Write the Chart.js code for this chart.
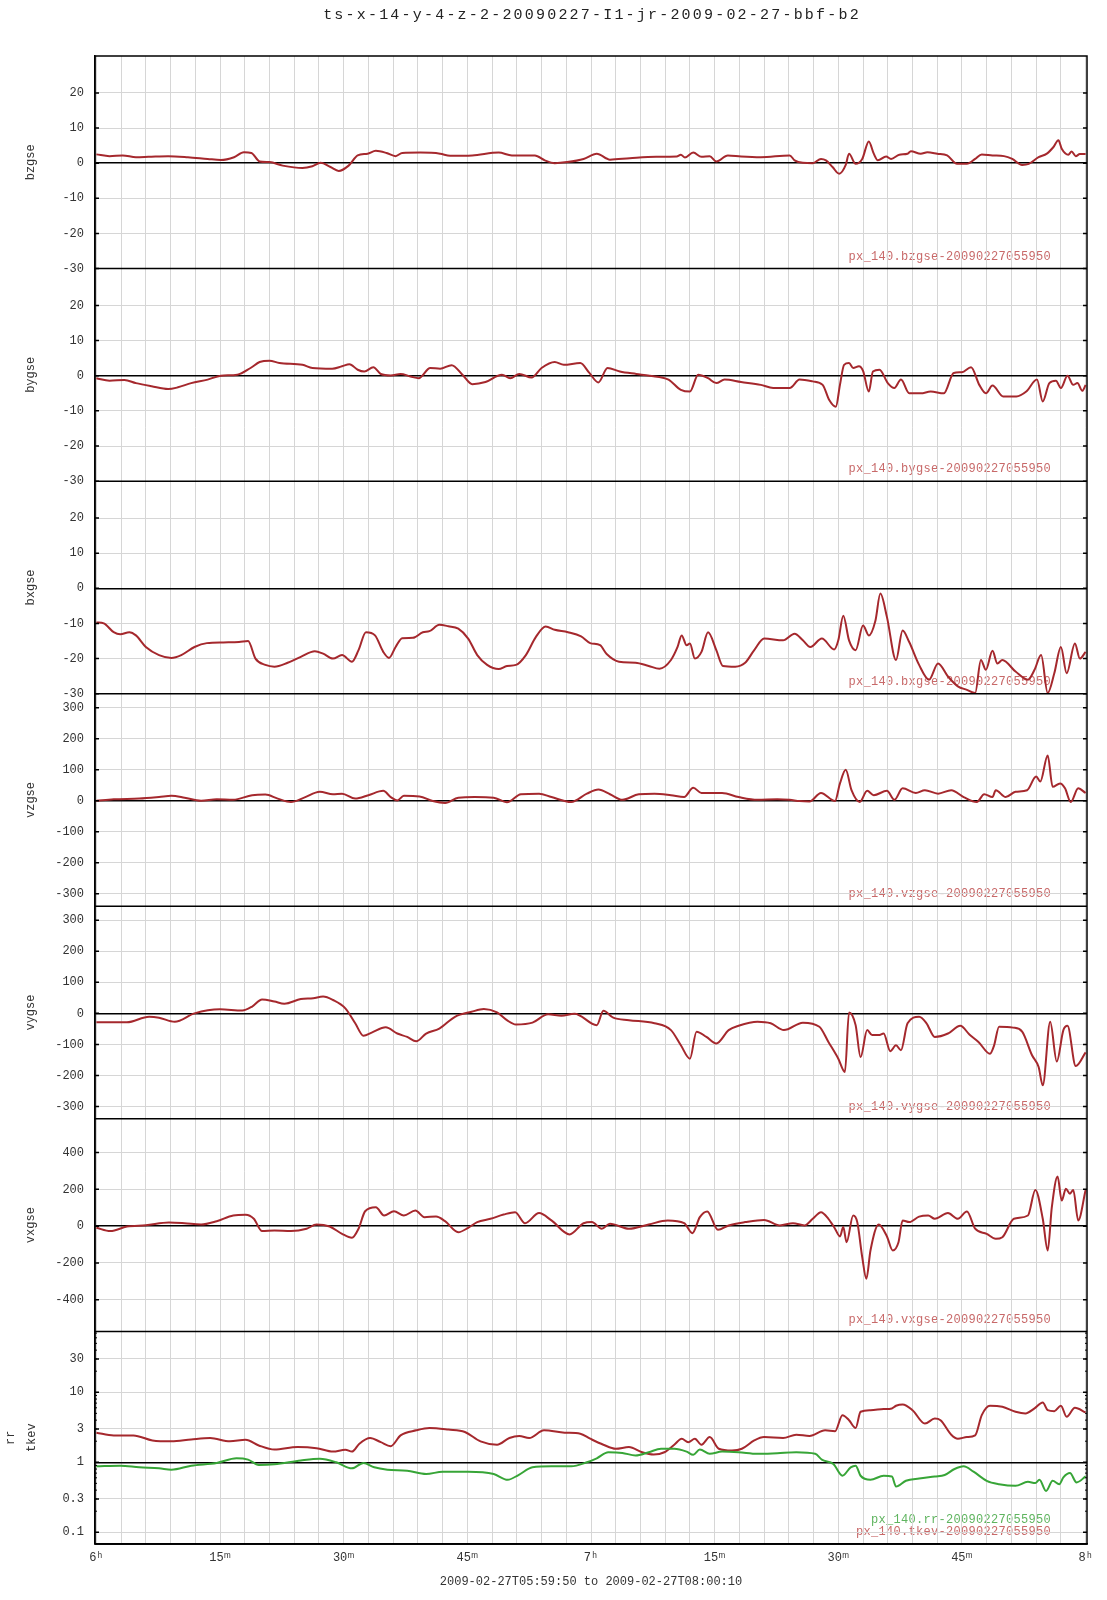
<!DOCTYPE html>
<html>
<head>
<meta charset="utf-8">
<title>ts-x-14-y-4-z-2-20090227-I1-jr-2009-02-27-bbf-b2</title>
<script src="https://cdn.jsdelivr.net/npm/chart.js@4/dist/chart.umd.min.js"></script>
<style>
  html, body { margin: 0; padding: 0; background: #fff; }
  #wrap { width: 1107px; height: 1600px; }
</style>
</head>
<body>
<div id="wrap"><canvas id="tsChart" width="1107" height="1600"></canvas></div>
<script>
// Tytul i zakres czasu
const chartTitle = 'ts-x-14-y-4-z-2-20090227-I1-jr-2009-02-27-bbf-b2';
const timeRange = '2009-02-27T05:59:50 to 2009-02-27T08:00:10';

// os X w minutach od 06:00 (05:59:50 .. 08:00:10)
const xMin = -10 / 60;
const xMax = 120 + 10 / 60;
const xTickMinutes = [0, 15, 30, 45, 60, 75, 90, 105, 120];
const xTickLabels = ['6ʰ', '15ᵐ', '30ᵐ', '45ᵐ', '7ʰ', '15ᵐ', '30ᵐ', '45ᵐ', '8ʰ'];

// etykiety osi Y
const bTicks = [-30, -20, -10, 0, 10, 20];
const vTicks = [-300, -200, -100, 0, 100, 200, 300];
const vxTicks = [-400, -200, 0, 200, 400];
const logTicks = [0.1, 0.3, 1, 3, 10, 30];

// serie: [minuta, wartosc]
const bzgse = [[0,2.5],[1.6,2],[3.2,2.2],[4.8,1.7],[6.3,1.8],[8.7,2],[11.1,1.7],[13.5,1.2],[15.1,0.9],[16.7,1.7],[17.9,3.1],[18.8,2.9],[19.8,0.5],[21,0.3],[22.6,-0.7],[25,-1.4],[26.2,-0.9],[27.2,0.1],[28.4,-1.1],[29.4,-2.2],[30.6,-0.7],[31.7,2.2],[32.9,2.7],[33.9,3.5],[35.2,2.9],[36.3,2],[37.1,2.9],[39.3,3],[41.7,2.7],[42.9,2.1],[45.6,2.2],[48.8,3],[50.4,2.2],[53.2,2.2],[54.4,0.8],[55.6,0],[57.1,0.3],[59.1,1.2],[60.7,2.7],[62.3,1],[64.7,1.4],[67.9,1.8],[70.4,1.9],[70.9,2.4],[71.4,1.6],[72.4,3],[73.4,1.8],[74.4,2],[75.2,0.5],[76.6,2.2],[78.2,1.9],[80.6,1.7],[84.1,2.2],[84.7,0.8],[85.7,0.1],[86.9,0],[87.9,1.2],[88.5,0.8],[89.3,-1.1],[90.1,-3],[90.9,-0.5],[91.3,2.7],[92.1,-0.2],[92.9,1.2],[93.7,6.2],[94.3,2.7],[94.8,0.8],[95.8,1.9],[96.4,1.2],[97.4,2.4],[98.4,2.7],[98.8,3.4],[100,2.7],[100.8,3.1],[102,2.7],[103.2,2.2],[104.4,-0.2],[105.6,-0.2],[106.6,1.2],[107.4,2.5],[108.7,2.2],[110.1,2],[111.1,1.2],[112.3,-0.5],[113.1,-0.2],[114.3,1.7],[115.3,2.7],[116.1,4.6],[116.7,6.5],[117.1,4.1],[117.9,2.4],[118.3,3.3],[118.8,2],[119.3,2.6],[120,2.6]];

const bygse = [[0,-0.7],[1.6,-1.4],[3.4,-1.2],[4.8,-2.1],[6.7,-3],[8.7,-3.8],[9.9,-3.3],[11.5,-2.1],[13.5,-1.1],[15.1,0],[17.1,0.3],[18.7,2.2],[19.8,3.9],[21,4.3],[22.2,3.6],[25,3.1],[26.2,2.2],[28.6,2],[29.8,2.7],[30.7,3.3],[31.7,1.7],[32.5,1.2],[33.6,2.4],[34.5,0.5],[35.7,0.1],[36.9,0.5],[38.1,-0.2],[39.1,-0.7],[40.5,2.2],[41.7,2],[43.1,3],[44.4,0.3],[45.6,-2.4],[47.2,-1.8],[49.2,0.3],[50.2,-0.7],[51.3,0.5],[52.8,-0.5],[54,2.2],[55.6,3.9],[56.7,3.1],[58.7,3.6],[59.8,0.8],[60.9,-1.9],[62,2.2],[63.5,1.2],[65.5,0.5],[67.1,0],[69.4,-1.1],[70.9,-4],[72,-4.5],[73,0.3],[74.2,-0.7],[75.2,-2.1],[76.2,-1.1],[78.2,-1.8],[80.6,-2.6],[82.1,-3.5],[84.1,-3.5],[85.3,-1.1],[86.9,-1.6],[88.1,-2.6],[88.9,-6.9],[89.7,-8.8],[90.2,-2.6],[90.7,3.1],[91.3,3.6],[91.8,2.2],[92.5,2.7],[93,1.4],[93.7,-4.5],[94.2,1.2],[95,1.7],[96,-2.1],[96.8,-3.5],[97.6,-1.1],[98.6,-5],[100,-5],[101.2,-4.5],[102.8,-5],[104,0.8],[105,1],[106.1,2.4],[107.1,-2.6],[107.9,-5],[108.7,-2.8],[110,-5.9],[111.6,-5.9],[112.8,-4.5],[114.1,-1.1],[114.8,-7.3],[115.6,-2.1],[116.4,-1.4],[117,-3.5],[117.8,0],[118.5,-2.6],[119,-2.1],[119.6,-4.3],[120,-2.6]];

const bxgse = [[0,-9.7],[0.9,-10],[2.1,-12.5],[2.9,-13.1],[4,-12.5],[4.8,-13.4],[6,-16.7],[7.6,-19],[9.1,-19.8],[10.3,-19],[11.9,-16.7],[13.4,-15.6],[15.4,-15.4],[17.3,-15.3],[18.4,-15],[19.3,-20],[20.5,-21.8],[21.6,-22.3],[23.2,-21.2],[24.8,-19.5],[26.5,-17.9],[27.5,-18.6],[28.7,-20],[29.8,-19],[31,-20.9],[31.8,-17.6],[32.7,-12.5],[33.8,-13.4],[34.8,-18.1],[35.5,-19.8],[36.3,-16.7],[37.1,-14.2],[38.4,-14.1],[39.6,-12.5],[40.4,-12.2],[41.6,-10.4],[42.7,-10.8],[43.9,-11.5],[45.1,-14.3],[46.2,-19],[47.4,-21.8],[48.8,-23],[49.8,-22.1],[50.9,-21.8],[52.1,-19],[53.3,-13.9],[54.5,-10.9],[55.6,-11.8],[57.2,-12.5],[58.8,-13.7],[59.9,-15.6],[61.1,-16.2],[61.9,-18.7],[63.4,-20.9],[65.4,-21.2],[67,-22.1],[68.3,-22.9],[69.7,-20.4],[70.5,-16.7],[71,-13.4],[71.6,-16.2],[72,-15.7],[72.6,-20],[73.4,-18.1],[74.2,-12.5],[75.2,-17.6],[76,-22.1],[77.5,-22.3],[78.7,-21.2],[79.8,-17.6],[81,-14.3],[83.3,-14.8],[84.7,-12.9],[85.7,-14.8],[86.6,-16.7],[88,-14.3],[89.5,-17.4],[90,-14.8],[90.6,-7.8],[91.3,-14.8],[92.1,-17.6],[93,-10.6],[93.7,-13.4],[94.5,-9.2],[95.1,-1.5],[95.9,-8.2],[97,-20.4],[97.8,-12],[98.6,-15.3],[99.8,-21.8],[101,-26],[102.1,-21.4],[103.3,-25.1],[104.5,-27.9],[105.6,-28.9],[106.6,-29.8],[107.3,-20.4],[107.9,-23.2],[108.7,-17.8],[109.3,-21.4],[109.9,-20.4],[111.5,-23.7],[113,-26],[113.8,-23.2],[114.6,-19],[115.4,-29.8],[116.2,-24.2],[117,-16.7],[117.7,-24.2],[118.7,-15.7],[119.3,-20],[120,-18.1]];

const vzgse = [[0,0],[2.1,5],[5.2,7],[7.6,12],[9.1,16],[10.7,10],[12.7,0],[14.6,5],[16.6,3],[18.9,18],[20.5,20],[22,7],[23.6,-4],[25.2,10],[27.1,29],[28.7,21],[29.8,23],[31.4,7],[33,18],[34.8,32],[35.7,12],[36.5,1],[37.3,16],[39.2,14],[40.8,-1],[42.3,-7],[43.9,10],[45.9,12],[48.2,10],[49.8,-5],[51.5,21],[53.7,23],[55.2,12],[57.6,-4],[59.5,23],[60.9,36],[62.3,21],[63.8,3],[65.8,21],[67.7,23],[69.7,18],[71.3,12],[72.4,42],[73.4,25],[75.9,25],[77.9,12],[80.2,3],[82.6,5],[84.1,3],[85.3,-1],[86.5,-2],[87.9,25],[89.6,-1],[90.2,56],[90.9,100],[91.6,34],[92.6,-4],[93.5,32],[94.3,18],[95.9,32],[96.8,3],[97.8,40],[99.4,25],[100.5,34],[102.1,23],[103.7,34],[105.2,12],[106.8,-4],[107.7,21],[108.7,12],[109.1,34],[110.3,12],[111.5,29],[112.9,34],[114,78],[114.5,62],[115.4,146],[116,45],[116.9,56],[117.5,40],[118.2,-4],[119.1,40],[120,25]];

const vygse = [[0,-29],[3.7,-29],[6.4,-11],[7.6,-14],[9.5,-27],[11.9,0],[15,13],[17.7,9],[18.9,22],[20.1,45],[21.6,38],[22.8,31],[24.8,46],[26.3,49],[27.5,54],[28.7,43],[30.2,16],[31.4,-32],[32.4,-72],[33.4,-62],[35.1,-45],[36.5,-65],[37.7,-76],[38.8,-90],[40,-65],[41.6,-49],[43.5,-11],[45.5,5],[47,14],[48.6,3],[49.8,-22],[50.9,-36],[52.9,-30],[54.8,-3],[56.4,-8],[58,-1],[60.7,-38],[61.5,8],[62.7,-14],[64.6,-22],[67.7,-32],[69.7,-54],[70.9,-103],[72,-146],[72.8,-59],[74,-76],[75.2,-97],[76.7,-54],[77.9,-40],[80.2,-27],[81.8,-32],[83.4,-54],[85.7,-30],[87.7,-43],[88.8,-92],[90,-146],[90.8,-189],[91.3,3],[92.1,-38],[92.7,-141],[93.5,-54],[94.1,-70],[94.9,-70],[95.5,-65],[96.3,-122],[97,-103],[97.6,-119],[98.4,-32],[99.8,-11],[100.7,-32],[101.7,-76],[103.3,-65],[104.8,-40],[105.9,-68],[107,-92],[108.4,-130],[108.9,-103],[109.5,-43],[111.2,-46],[112.3,-59],[113.5,-135],[114.3,-173],[114.8,-232],[115.7,-27],[116.5,-155],[117.3,-54],[117.8,-40],[118.8,-170],[120,-126]];

const vxgse = [[0,-9],[1.7,-27],[3.7,-2],[6,5],[8.8,20],[10.7,16],[12.7,9],[14.6,27],[16.6,58],[18.1,62],[19.1,40],[20.1,-27],[21.6,-24],[23.6,-27],[25.5,-14],[26.7,9],[28.3,-2],[29.8,-42],[31,-63],[31.8,-14],[32.6,81],[33.9,103],[34.9,58],[36.1,81],[37.3,58],[38.7,85],[39.8,49],[41.2,52],[42.3,27],[43.9,-33],[45.1,-9],[46.2,22],[47.8,40],[49.4,63],[50.8,76],[52,16],[53.7,71],[55.2,31],[57.4,-45],[59.1,16],[60.1,22],[61.3,-14],[62.3,13],[64.6,-14],[67,9],[69.3,31],[71.3,16],[72.3,-38],[73.2,49],[74.1,80],[75.4,-20],[76.7,4],[78.7,22],[81,34],[82.9,4],[84.5,16],[85.9,4],[86.9,40],[87.9,76],[88.8,40],[89.6,-14],[90.2,-56],[90.6,-5],[91,-87],[91.8,58],[92.3,22],[92.9,-168],[93.4,-286],[93.9,-132],[94.9,9],[95.9,-56],[96.6,-132],[97.3,-87],[97.8,31],[98.6,22],[99.8,52],[100.9,58],[101.7,40],[103.3,71],[104.5,40],[105.6,80],[106.6,-14],[108,-42],[109.1,-69],[109.9,-60],[111.3,40],[113,58],[113.9,197],[114.8,40],[115.4,-132],[115.9,103],[116.6,270],[117.1,139],[117.6,203],[118.1,176],[118.5,197],[119.1,31],[120,197]];

const rr = [[0,0.876],[2.9,0.895],[5.2,0.847],[7.6,0.819],[9.1,0.784],[11.5,0.895],[14.6,0.978],[17,1.14],[18.4,1.09],[19.7,0.915],[21.6,0.936],[24.8,1.06],[27.1,1.12],[29.1,1],[31,0.819],[32.4,0.978],[33.7,0.847],[35.3,0.784],[37.7,0.758],[40,0.679],[42,0.733],[45.1,0.733],[48.2,0.679],[49.9,0.563],[51.2,0.657],[52.9,0.847],[55.2,0.876],[57.6,0.876],[59.5,1],[60.7,1.14],[62.1,1.39],[63.8,1.36],[65.4,1.25],[67,1.39],[68.5,1.56],[70.1,1.56],[71.6,1.42],[72.4,1.28],[73.2,1.52],[74.4,1.32],[75.9,1.42],[77.9,1.39],[80.2,1.32],[82.6,1.35],[84.9,1.39],[87.2,1.32],[88,1.09],[89.4,0.946],[90.5,0.642],[91.5,0.847],[92.1,0.895],[92.7,0.642],[93.9,0.563],[95.5,0.642],[96.5,0.628],[97,0.45],[98.2,0.544],[99.8,0.588],[101.7,0.628],[102.9,0.657],[104.1,0.801],[105.2,0.876],[106.4,0.733],[108,0.544],[109.5,0.487],[111.5,0.461],[113,0.527],[113.9,0.504],[114.4,0.563],[115.2,0.39],[116,0.544],[116.8,0.487],[117.3,0.608],[118.1,0.7],[118.9,0.515],[120,0.628]];

const tkev = [[0,2.65],[2.1,2.42],[4.5,2.42],[6.8,2.05],[9.1,1.99],[11.5,2.12],[13.8,2.22],[16.2,1.99],[18.1,2.1],[19.7,1.74],[21.6,1.52],[24.4,1.65],[26.7,1.59],[28.7,1.42],[30.2,1.51],[31,1.42],[31.9,1.84],[33.2,2.22],[34.5,1.94],[35.7,1.7],[36.9,2.42],[38.8,2.86],[40.4,3.09],[42.7,2.93],[44.7,2.71],[46.6,1.99],[48.6,1.78],[50.1,2.22],[51.3,2.37],[52.5,2.22],[54.3,2.86],[56.8,2.65],[58.7,2.56],[59.9,2.17],[61.5,1.78],[63,1.56],[64.6,1.65],[66.2,1.39],[67.6,1.29],[68.9,1.39],[70.1,1.78],[71,2.17],[71.8,1.94],[72.6,2.17],[73.4,1.78],[74.4,2.29],[75.5,1.56],[77.1,1.47],[78.3,1.56],[79.8,2.05],[81,2.29],[83.3,2.22],[84.9,2.48],[86.5,2.37],[88.4,2.86],[89.6,2.77],[90.5,4.71],[91.3,3.99],[92.1,3.09],[92.7,5.27],[93.9,5.55],[95.5,5.75],[96.5,5.88],[97,6.42],[97.8,6.71],[99,5.55],[100.5,3.57],[101.7,4.21],[102.4,3.99],[103.7,2.48],[104.5,2.17],[105.6,2.29],[106.6,2.42],[107.4,4.71],[108.4,6.42],[109.9,6.2],[111.5,5.27],[112.7,4.98],[113.8,5.88],[114.8,7.17],[115.4,5.55],[116.2,5.37],[117,6.42],[117.7,4.46],[118.7,6],[120,5.15]];

const lineRed = 'rgb(165,40,45)';
const lineGreen = 'rgb(55,165,55)';
const srcRed = 'rgb(200,105,105)';
const srcGreen = 'rgb(95,180,95)';

const monoFont = "'Liberation Mono', 'Courier New', monospace";
const textColor = '#333';

// panele od gory do dolu
const panels = [
    { id: 'yBz', title: 'bzgse', min: -30, max: 30.5, ticks: bTicks, base: 0, titlePad: 24,
      series: [{ points: bzgse, color: lineRed, source: 'px_140.bzgse-20090227055950', srcColor: srcRed }] },
    { id: 'yBy', title: 'bygse', min: -30, max: 30.5, ticks: bTicks, base: 0, titlePad: 24,
      series: [{ points: bygse, color: lineRed, source: 'px_140.bygse-20090227055950', srcColor: srcRed }] },
    { id: 'yBx', title: 'bxgse', min: -30, max: 30.5, ticks: bTicks, base: 0, titlePad: 24,
      series: [{ points: bxgse, color: lineRed, source: 'px_140.bxgse-20090227055950', srcColor: srcRed }] },
    { id: 'yVz', title: 'vzgse', min: -340, max: 345, ticks: vTicks, base: 0, titlePad: 24,
      series: [{ points: vzgse, color: lineRed, source: 'px_140.vzgse-20090227055950', srcColor: srcRed }] },
    { id: 'yVy', title: 'vygse', min: -340, max: 345, ticks: vTicks, base: 0, titlePad: 24,
      series: [{ points: vygse, color: lineRed, source: 'px_140.vygse-20090227055950', srcColor: srcRed }] },
    { id: 'yVx', title: 'vxgse', min: -572, max: 583, ticks: vxTicks, base: 0, titlePad: 24,
      series: [{ points: vxgse, color: lineRed, source: 'px_140.vxgse-20090227055950', srcColor: srcRed }] },
    { id: 'yT', title: ['rr', 'tkev'], min: 0.068, max: 74, ticks: logTicks, base: 1, titlePad: 1, log: true,
      series: [{ points: rr, color: lineGreen, source: 'px_140.rr-20090227055950', srcColor: srcGreen },
               { points: tkev, color: lineRed, source: 'px_140.tkev-20090227055950', srcColor: srcRed }] }
];

// dekoracje: tytul, podpisy zrodel, ramki paneli, kreski podzialki
const panelDecor = {
    id: 'panelDecor',
    beforeDraw(chart) {
        const { ctx, chartArea } = chart;
        ctx.save();
        ctx.fillStyle = '#fff';
        ctx.fillRect(0, 0, chart.width, chart.height);
        ctx.font = '15px ' + monoFont;
        ctx.letterSpacing = '2.2px';
        ctx.fillStyle = '#222';
        ctx.textAlign = 'center';
        ctx.textBaseline = 'middle';
        ctx.fillText(chartTitle, (chartArea.left + chartArea.right) / 2 + 1, 15);
        ctx.letterSpacing = '0.3px';
        ctx.font = '12px ' + monoFont;
        ctx.textAlign = 'right';
        panels.forEach(p => {
            const sc = chart.scales[p.id];
            p.series.forEach((s, k) => {
                ctx.fillStyle = s.srcColor;
                ctx.fillText(s.source, chartArea.right - 36, sc.bottom - 12 - 12 * (p.series.length - 1 - k));
            });
        });
        ctx.restore();
    },
    afterDraw(chart) {
        const { ctx, chartArea } = chart;
        ctx.save();
        ctx.strokeStyle = '#000';
        ctx.lineWidth = 1.5;
        ctx.strokeRect(chartArea.left, chartArea.top, chartArea.right - chartArea.left, chartArea.bottom - chartArea.top);
        panels.forEach(p => {
            const sc = chart.scales[p.id];
            ctx.beginPath();
            ctx.moveTo(chartArea.left, sc.bottom);
            ctx.lineTo(chartArea.right, sc.bottom);
            ctx.stroke();
        });
        // krotkie kreski podzialki po wewnetrznej stronie ramki
        ctx.lineWidth = 1.5;
        panels.forEach(p => {
            const sc = chart.scales[p.id];
            sc.ticks.forEach(t => {
                const y = sc.getPixelForValue(t.value);
                ctx.beginPath();
                ctx.moveTo(chartArea.left, y);
                ctx.lineTo(chartArea.left + 4, y);
                ctx.moveTo(chartArea.right, y);
                ctx.lineTo(chartArea.right - 4, y);
                ctx.stroke();
            });
            if (p.log) {
                ctx.lineWidth = 1;
                [0.1, 1, 10].forEach(dec => {
                    for (let m = 2; m <= 9; m++) {
                        const v = dec * m;
                        if (v < p.min || v > p.max) continue;
                        const y = sc.getPixelForValue(v);
                        ctx.beginPath();
                        ctx.moveTo(chartArea.left, y);
                        ctx.lineTo(chartArea.left + 2, y);
                        ctx.moveTo(chartArea.right, y);
                        ctx.lineTo(chartArea.right - 2, y);
                        ctx.stroke();
                    }
                });
                ctx.lineWidth = 1.5;
            }
        });
        ctx.restore();
    }
};

const scales = {
    x: {
        type: 'linear',
        position: 'bottom',
        min: xMin,
        max: xMax,
        afterBuildTicks: s => {
            const t = [];
            for (let m = 0; m <= 120; m += 3) t.push({ value: m });
            s.ticks = t;
        },
        afterFit: s => { s.height = 56; },
        grid: { color: '#d6d6d6', drawTicks: false },
        border: { color: '#000', width: 1.5 },
        ticks: {
            autoSkip: false,
            maxRotation: 0,
            padding: 7,
            color: textColor,
            font: { family: monoFont, size: 12 },
            callback: v => {
                const i = xTickMinutes.indexOf(v);
                return i >= 0 ? xTickLabels[i] : '';
            }
        },
        title: { display: true, text: timeRange, color: textColor, font: { family: monoFont, size: 12 }, padding: { top: 0, bottom: 11 } }
    }
};

panels.forEach((p, idx) => {
    scales[p.id] = {
        type: p.log ? 'logarithmic' : 'linear',
        position: 'left',
        stack: 'panels',
        stackWeight: 1,
        weight: panels.length - idx,
        min: p.min,
        max: p.max,
        afterBuildTicks: s => { s.ticks = p.ticks.map(v => ({ value: v })); },
        afterFit: s => { s.width = 95; },
        border: { color: '#000', width: 1.5 },
        grid: {
            drawTicks: false,
            color: c => (c.tick && c.tick.value === p.base) ? '#000' : '#d6d6d6',
            lineWidth: c => (c.tick && c.tick.value === p.base) ? 1.5 : 1
        },
        ticks: {
            autoSkip: false,
            padding: 11,
            color: textColor,
            font: { family: monoFont, size: 12 },
            callback: v => String(v)
        },
        title: {
            display: true,
            text: p.title,
            color: textColor,
            font: { family: monoFont, size: 12, lineHeight: p.log ? 1.7 : 1.2 },
            padding: { top: p.titlePad, bottom: 0 }
        }
    };
});

const datasets = [];
panels.forEach(p => {
    p.series.forEach(s => {
        datasets.push({
            label: s.source,
            data: s.points.map(([x, y]) => ({ x, y })),
            yAxisID: p.id,
            xAxisID: 'x',
            borderColor: s.color,
            borderWidth: 2,
            pointRadius: 0,
            cubicInterpolationMode: 'monotone'
        });
    });
});

const ctx = document.getElementById('tsChart').getContext('2d');
const tsChart = new Chart(ctx, {
    type: 'line',
    data: { datasets: datasets },
    options: {
        responsive: false,
        animation: false,
        layout: { padding: { top: 56, right: 20, bottom: 0, left: 0 } },
        plugins: {
            legend: { display: false },
            tooltip: { enabled: false }
        },
        scales: scales
    },
    plugins: [panelDecor]
});
</script>
</body>
</html>
